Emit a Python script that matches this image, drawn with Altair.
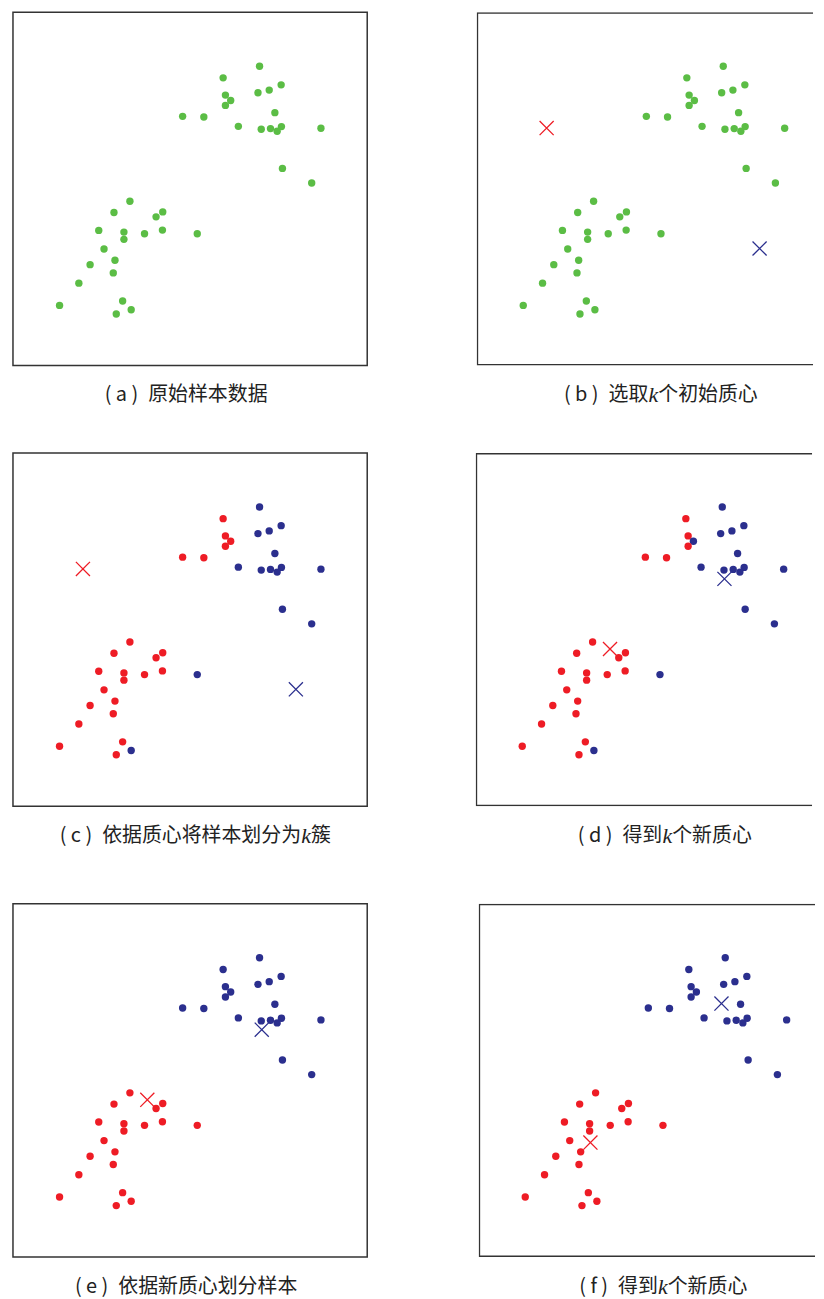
import altair as alt
import pandas as pd

# ---- data (x right, y up, in plot units; 1 unit = 1 px) ----
X_VALS = [247.8, 211.2, 269.5, 257.5, 246.2, 213.5, 218.8, 213.5, 263.2, 170.5,
          191.8, 226.5, 249.5, 258.8, 269.8, 265.5, 309.5, 270.8, 300.2,
          117.5, 101.5, 150.5, 143.8, 86.2, 111.5, 132.2, 150.2, 185.2, 111.5,
          91.5, 102.5, 77.5, 100.8, 66.2, 46.8, 110.2, 118.8, 103.8]
Y_VALS = [300.7, 289.0, 282.0, 276.7, 274.0, 271.7, 266.3, 261.3, 254.0, 250.3,
          249.7, 240.3, 237.3, 238.0, 240.0, 235.3, 238.3, 198.0, 183.3,
          165.0, 153.7, 154.3, 149.3, 135.7, 134.0, 132.3, 136.0, 132.3, 126.7,
          117.0, 105.7, 101.3, 93.0, 82.7, 60.3, 64.7, 56.0, 51.7]

# cluster labels per panel ("G" = unassigned, "A" = red cluster, "B" = blue cluster)
ASSIGN_RAW = ["G"] * 38
ASSIGN_C = list("BABBBAAABAABBBBBBBBAAAAAAAABAAAAAAAABA")
ASSIGN_D = list("BABBBABABAABBBBBBBBAAAAAAAABAAAAAAAABA")
ASSIGN_E = list("BBBBBBBBBBBBBBBBBBBAAAAAAAAAAAAAAAAAAA")

# centroids: [red, blue]
CENT_B_X = [70.3, 284.3]
CENT_B_Y = [238.5, 117.5]
CENT_D_X = [135.0, 250.0]
CENT_D_Y = [158.0, 228.5]
CENT_F_X = [112.3, 244.0]
CENT_F_Y = [115.0, 254.7]
CENT_GROUPS = ["A", "B"]

# captions: (label, prefix, italic k or "", suffix)
CAPTIONS = [
    ("a", "原始样本数据", "", ""),
    ("b", "选取", "k", "个初始质心"),
    ("c", "依据质心将样本划分为", "k", "簇"),
    ("d", "得到", "k", "个新质心"),
    ("e", "依据新质心划分样本", "", ""),
    ("f", "得到", "k", "个新质心"),
]
CAP_SHIFT = [-4, 3, 0, 8, -4, 3]

GREEN = "#5bbd45"
RED = "#ee1c25"
BLUE = "#2b2f8e"
FRAME = "#333333"
W, H = 356, 355
W_RIGHT = 338          # right column is cut off by the page edge
CAP_Y = 385
FONT_CJK = "Noto Sans CJK SC"
X_PATH = "M-1,-1L1,1M-1,1L1,-1"


def text_width(s):
    w = 0
    for ch in s:
        if ord(ch) > 0x2000:
            w += 20
        elif ch in "()":
            w += 6.5
        elif ch == " ":
            w += 4.5
        elif ch == "\u2002":
            w += 10
        elif ch == "f":
            w += 6
        else:
            w += 11
    return w


def txt(text, x, align, **kw):
    base = pd.DataFrame({"t": [0]})
    style = dict(font=FONT_CJK, fontSize=20, color="#222")
    style.update(kw)
    return alt.Chart(base).mark_text(
        text=text, align=align, baseline="middle", **style).encode(
        x=alt.value(x), y=alt.value(CAP_Y))


def caption_layers(label, prefix, k, suffix, shift):
    prefix = "( " + label + " )\u2002" + prefix
    center = W / 2 + shift
    if not k:
        return [txt(prefix, center, "center")]
    pw = text_width(prefix)
    sw = text_width(suffix)
    total = pw + 10 + sw
    xk = center - total / 2 + pw
    return [
        txt(prefix, xk, "right"),
        txt(k, xk + 5, "center", font="Liberation Serif",
            fontStyle="italic", fontSize=22),
        txt(suffix, xk + 10, "left"),
    ]


def panel(assign, cx, cy, cap, shift, width=W):
    xs = alt.Scale(domain=[0, width], nice=False, zero=False)
    ys = alt.Scale(domain=[0, H], nice=False, zero=False)
    cs = alt.Scale(domain=["G", "A", "B"], range=[GREEN, RED, BLUE])
    df = pd.DataFrame({"x": X_VALS, "y": Y_VALS, "g": assign})
    layers = []
    cut = width < W
    if cut:
        # frame whose right side runs past the (clipped) page edge
        layers.append(alt.Chart(pd.DataFrame({"t": [0]})).mark_rect(
            fill="transparent", stroke=FRAME, strokeWidth=1.5, clip=True).encode(
            x=alt.value(0.75), x2=alt.value(W + 20),
            y=alt.value(0.75), y2=alt.value(H - 0.75)))
    pts = alt.Chart(df).mark_circle(size=55, opacity=1).encode(
        x=alt.X("x:Q", scale=xs, axis=None),
        y=alt.Y("y:Q", scale=ys, axis=None),
        color=alt.Color("g:N", scale=cs, legend=None),
    )
    layers.append(pts)
    if cx is not None:
        dc = pd.DataFrame({"x": cx, "y": cy, "g": CENT_GROUPS})
        layers.append(alt.Chart(dc).mark_point(
            shape=X_PATH, size=200, filled=False, strokeWidth=1.3, opacity=1).encode(
            x=alt.X("x:Q", scale=xs, axis=None),
            y=alt.Y("y:Q", scale=ys, axis=None),
            color=alt.Color("g:N", scale=cs, legend=None),
        ))
    layers += caption_layers(*cap, shift)
    ch = alt.layer(*layers).properties(width=width, height=H)
    if cut:
        ch = ch.properties(view=alt.ViewBackground(stroke="transparent"))
    return ch


pa = panel(ASSIGN_RAW, None, None, CAPTIONS[0], CAP_SHIFT[0])
pb = panel(ASSIGN_RAW, CENT_B_X, CENT_B_Y, CAPTIONS[1], CAP_SHIFT[1], W_RIGHT)
pc = panel(ASSIGN_C, CENT_B_X, CENT_B_Y, CAPTIONS[2], CAP_SHIFT[2])
pd_ = panel(ASSIGN_D, CENT_D_X, CENT_D_Y, CAPTIONS[3], CAP_SHIFT[3], W_RIGHT)
pe = panel(ASSIGN_E, CENT_D_X, CENT_D_Y, CAPTIONS[4], CAP_SHIFT[4])
pf = panel(ASSIGN_E, CENT_F_X, CENT_F_Y, CAPTIONS[5], CAP_SHIFT[5], W_RIGHT)

row1 = alt.hconcat(pa, pb, spacing=108)
row2 = alt.hconcat(pc, pd_, spacing=107)
row3 = alt.hconcat(pe, pf, spacing=110)

chart = alt.vconcat(
    row1, alt.vconcat(row2, row3, spacing=55), spacing=45
).properties(
    padding={"left": 4, "top": 0, "right": 0, "bottom": 0}
).configure_view(stroke=FRAME, strokeWidth=1.5)

chart.save("out.html", embed_options={"renderer": "svg", "actions": False})
